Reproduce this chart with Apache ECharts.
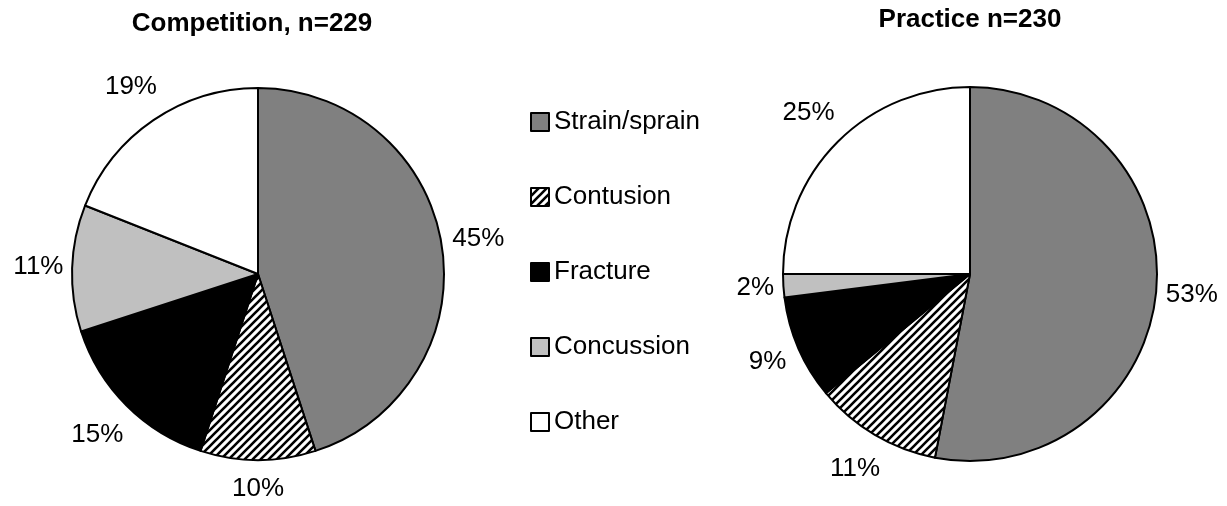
<!DOCTYPE html>
<html>
<head>
<meta charset="utf-8">
<script src="https://cdn.jsdelivr.net/npm/echarts@6/dist/echarts.min.js"></script>
<style>
  html, body { margin: 0; padding: 0; background: #fff; }
  #main { width: 1227px; height: 506px; }
</style>
</head>
<body>
<div id="main"></div>
<script>
var categories = ['Strain/sprain', 'Contusion', 'Fracture', 'Concussion', 'Other'];
var competitionValues = [45, 10, 15, 11, 19];
var practiceValues = [53, 11, 9, 2, 25];
var titles = ['Competition, n=229', 'Practice n=230'];

// hatch tile for "Contusion"
function hatch() {
  var c = document.createElement('canvas');
  c.width = 8; c.height = 8;
  var ctx = c.getContext('2d');
  ctx.fillStyle = '#fff';
  ctx.fillRect(0, 0, 8, 8);
  ctx.strokeStyle = '#000';
  ctx.lineWidth = 2.6;
  ctx.beginPath();
  ctx.moveTo(-2, 10); ctx.lineTo(10, -2);
  ctx.moveTo(-2, 2); ctx.lineTo(2, -2);
  ctx.moveTo(6, 10); ctx.lineTo(10, 6);
  ctx.stroke();
  return c;
}
var fills = ['#808080', { image: hatch(), repeat: 'repeat' }, '#000000', '#c0c0c0', '#ffffff'];

var pies = [
  { values: competitionValues, cx: 258, cy: 274, r: 186 },
  { values: practiceValues, cx: 970, cy: 274, r: 187 }
];

function makeSeries(p, idx) {
  var total = p.values.reduce(function (a, b) { return a + b; }, 0);
  return {
    type: 'pie',
    name: titles[idx],
    center: [p.cx, p.cy],
    radius: p.r,
    startAngle: 90,
    clockwise: true,
    avoidLabelOverlap: false,
    animation: false,
    emphasis: { disabled: true },
    itemStyle: { borderColor: '#000', borderWidth: 2 },
    label: {
      show: true,
      position: 'outside',
      formatter: '{c}%',
      color: '#000',
      fontSize: 26,
      fontFamily: 'Arial, "Liberation Sans", sans-serif'
    },
    labelLine: { show: false },
    labelLayout: function (params) {
      var before = 0;
      for (var i = 0; i < params.dataIndex; i++) before += p.values[i];
      var mid = (before + p.values[params.dataIndex] / 2) / total * Math.PI * 2;
      var s = Math.sin(mid), c = Math.cos(mid);
      var w = params.labelRect.width, h = params.labelRect.height;
      var d = p.r + 8 + Math.abs(s) * w / 2 + Math.abs(c) * (h / 2 + 8);
      return {
        x: p.cx + d * s,
        y: p.cy - d * c,
        align: 'center',
        verticalAlign: 'middle'
      };
    },
    data: categories.map(function (name, i) {
      return { name: name, value: p.values[i], itemStyle: { color: fills[i] } };
    })
  };
}

var myChart = echarts.init(document.getElementById('main'));
myChart.setOption({
  backgroundColor: '#fff',
  title: [
    { text: titles[0], left: 252, top: 11, textAlign: 'center', padding: 0,
      textStyle: { fontSize: 26, fontWeight: 'bold', color: '#000', fontFamily: 'Arial, "Liberation Sans", sans-serif' } },
    { text: titles[1], left: 970, top: 7, textAlign: 'center', padding: 0,
      textStyle: { fontSize: 26, fontWeight: 'bold', color: '#000', fontFamily: 'Arial, "Liberation Sans", sans-serif' } }
  ],
  legend: {
    orient: 'vertical',
    left: 530,
    top: 109,
    padding: 0,
    itemGap: 49,
    itemWidth: 18,
    itemHeight: 18,
    itemStyle: { borderColor: '#000', borderWidth: 2 },
    icon: 'rect',
    selectedMode: false,
    textStyle: { fontSize: 26, color: '#000', fontFamily: 'Arial, "Liberation Sans", sans-serif' },
    data: categories
  },
  series: pies.map(makeSeries)
});
</script>
</body>
</html>
